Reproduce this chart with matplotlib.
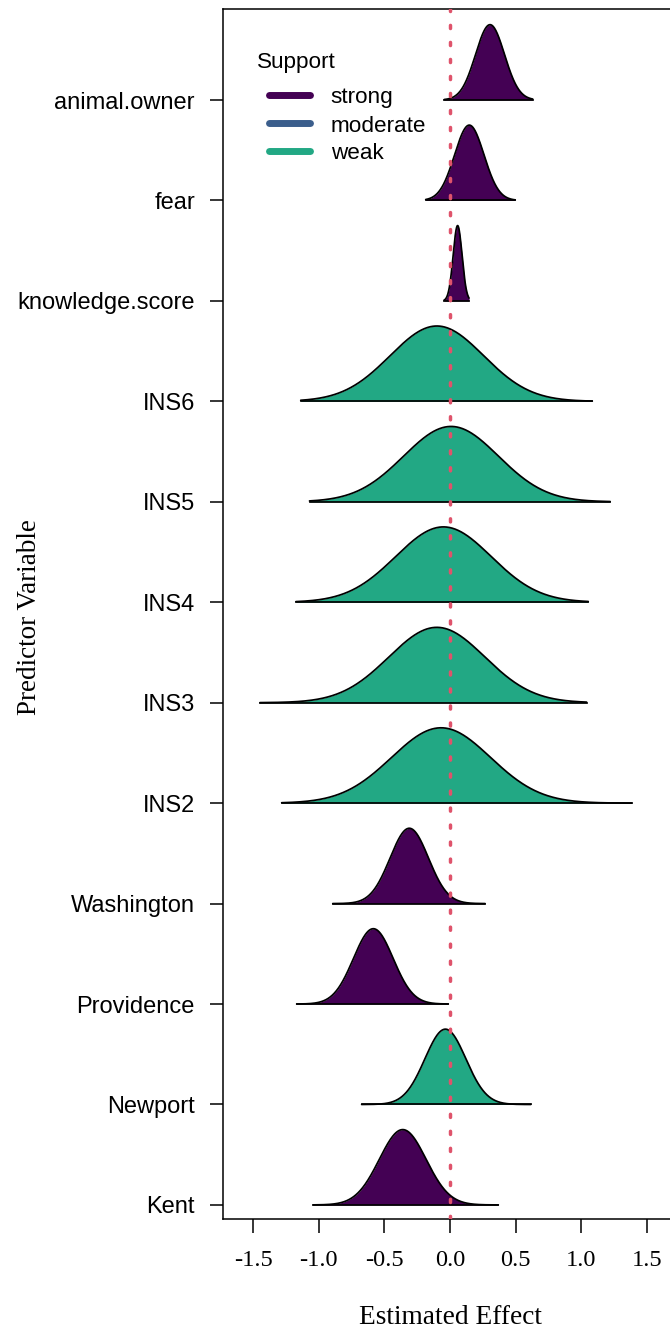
import numpy as np
import matplotlib
matplotlib.use("Agg")
import matplotlib.pyplot as plt
from matplotlib.lines import Line2D

plt.rcParams["font.family"] = ["Liberation Sans", "DejaVu Sans"]
plt.rcParams["axes.unicode_minus"] = False

# Predictors, bottom row first
predictors = ["Kent", "Newport", "Providence", "Washington", "INS2", "INS3",
              "INS4", "INS5", "INS6", "knowledge.score", "fear", "animal.owner"]
support = ["strong", "weak", "strong", "strong", "weak", "weak",
           "weak", "weak", "weak", "strong", "strong", "strong"]

# Posterior summaries of each effect: centre, spread and sampled range
post_mean = [-0.360, -0.035, -0.584, -0.310, -0.068, -0.100,
             -0.050, 0.008, -0.100, 0.058, 0.147, 0.305]
post_sd = [0.178, 0.156, 0.151, 0.146, 0.377, 0.366,
           0.364, 0.361, 0.356, 0.034, 0.112, 0.110]
post_min = [-1.041, -0.673, -1.168, -0.893, -1.282, -1.447,
            -1.173, -1.070, -1.137, -0.045, -0.185, -0.043]
post_max = [0.368, 0.615, -0.013, 0.267, 1.384, 1.040,
            1.053, 1.220, 1.084, 0.145, 0.497, 0.630]

support_levels = ["strong", "moderate", "weak"]
support_colors = {"strong": "#440154", "moderate": "#3B5E8C", "weak": "#22A884"}

x_ticks = [-1.5, -1.0, -0.5, 0.0, 0.5, 1.0, 1.5]
x_tick_labels = ["-1.5", "-1.0", "-0.5", "0.0", "0.5", "1.0", "1.5"]

W, H = 670, 1337


def fx(px):
    return px / W


def fy(py):
    return 1 - py / H


fig = plt.figure(figsize=(W / 100, H / 100), dpi=100)
ax = fig.add_axes([fx(223), fy(1219), (680 - 223) / W, (1219 - 9) / H])

ridge_height = 0.75
for i, name in enumerate(predictors):
    base = i + 1
    xs = np.linspace(post_min[i], post_max[i], 500)
    dens = np.exp(-0.5 * ((xs - post_mean[i]) / post_sd[i]) ** 2)
    ys = base + ridge_height * dens
    ax.fill_between(xs, base, ys, color=support_colors[support[i]], lw=0, zorder=2)
    ax.plot(xs, ys, color="black", lw=1.25, zorder=3, solid_capstyle="round")
    ax.plot([xs[0], xs[-1]], [base, base], color="black", lw=1.25, zorder=3)

ax.axvline(0, color="#DF536B", lw=2.5, ls=(0, (0.9, 4.0)),
           dash_capstyle="round", zorder=4)

ax.set_xlim(-1.729, 1.752)
ax.set_ylim(0.86, 12.906)

ax.set_xticks(x_ticks)
ax.set_xticklabels(x_tick_labels, fontfamily="Liberation Serif", fontsize=17.6)
ax.set_yticks(range(1, len(predictors) + 1))
ax.set_yticklabels(predictors, fontsize=17)
ax.tick_params(axis="x", length=10, width=1.1, pad=12)
ax.tick_params(axis="y", length=9.4, width=1.1, pad=10.8)
for side in ["left", "bottom", "top"]:
    ax.spines[side].set_linewidth(1.1)
ax.spines["right"].set_visible(False)

fig.text(fx(450), fy(1318), "Estimated Effect", family="Liberation Serif",
         fontsize=19.7, ha="center", va="center")
fig.text(fx(29), fy(617), "Predictor Variable", family="Liberation Serif",
         fontsize=19.5, rotation=90, ha="center", va="center")

# Legend for support level
fig.text(fx(256.7), fy(67.7), "Support", fontsize=16.2, ha="left", va="baseline")
legend_rows = [(95.0, 103.3), (122.7, 131.7), (151.0, 159.3)]
for level, (ly, lb) in zip(support_levels, legend_rows):
    fig.add_artist(Line2D([fx(268.5), fx(309.5)], [fy(ly), fy(ly)],
                          transform=fig.transFigure, color=support_colors[level],
                          lw=5.0, solid_capstyle="round"))
    fig.text(fx(330.7), fy(lb), level, fontsize=16.2, ha="left", va="baseline")

fig.savefig("out.png", dpi=100)
